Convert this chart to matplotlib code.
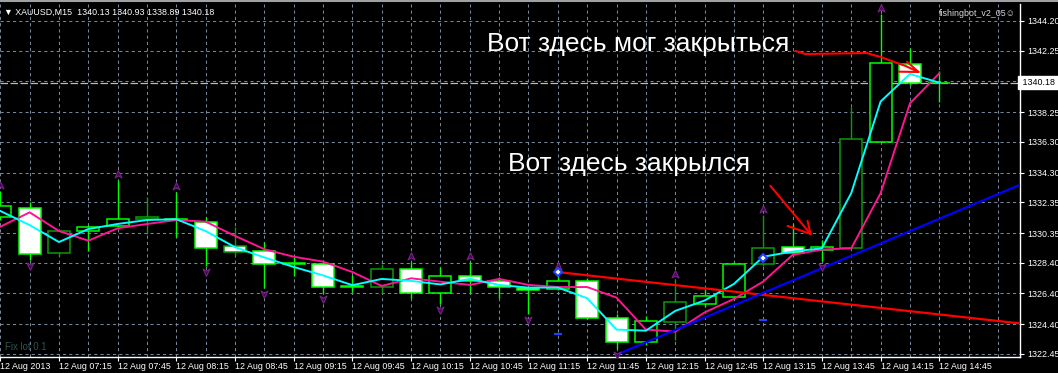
import numpy as np
import matplotlib
matplotlib.use('Agg')
import matplotlib.pyplot as plt
import matplotlib.transforms as mtransforms
from matplotlib import font_manager
from matplotlib.patches import Rectangle
from matplotlib.lines import Line2D
from matplotlib.path import Path

plt.rcParams['font.family'] = ['Liberation Sans', 'DejaVu Sans']

# small terminal-like font: narrow face when it is there
_names = {f.name for f in font_manager.fontManager.ttflist}
if 'Liberation Sans Narrow' in _names:
    SMALL = dict(family=['Liberation Sans Narrow', 'DejaVu Sans'], size=7.4)
else:
    SMALL = dict(family=['Liberation Sans', 'DejaVu Sans'], size=6.4)

# XAUUSD M15, 12 Aug 2013 06:45 .. 14:45 (one bar every 15 min)
opens = [1331.40, 1331.97, 1329.03, 1330.50, 1330.81, 1331.25, 1331.20, 1331.05, 1329.50,
         1329.20, 1328.35, 1328.31, 1326.90, 1326.81, 1328.00, 1326.41, 1327.54, 1327.24,
         1326.75, 1326.67, 1327.24, 1324.83, 1323.25, 1324.54, 1325.69, 1326.20, 1328.31,
         1329.46, 1329.24, 1329.35, 1336.32, 1341.37, 1340.13]
highs = [1333.10, 1332.40, 1330.55, 1330.87, 1333.81, 1332.68, 1333.05, 1331.38, 1330.76,
         1329.78, 1328.78, 1328.59, 1327.61, 1328.33, 1328.48, 1328.15, 1328.48, 1327.45,
         1326.85, 1327.80, 1327.41, 1325.06, 1324.93, 1327.28, 1326.67, 1328.46, 1331.53,
         1330.94, 1329.89, 1338.56, 1344.66, 1342.42, 1340.93]
lows = [1331.20, 1328.59, 1328.85, 1329.20, 1330.75, 1330.29, 1330.07, 1328.20, 1328.87,
        1326.76, 1327.54, 1326.41, 1326.52, 1326.41, 1326.09, 1325.71, 1326.41, 1326.09,
        1325.06, 1326.62, 1324.70, 1322.80, 1323.05, 1323.36, 1325.52, 1326.10, 1328.20,
        1329.00, 1328.52, 1329.30, 1336.30, 1340.00, 1338.89]
closes = [1332.12, 1328.96, 1330.48, 1330.72, 1331.25, 1331.38, 1331.25, 1329.39, 1329.09,
          1328.31, 1328.40, 1326.84, 1326.85, 1328.00, 1326.43, 1327.54, 1327.22, 1326.81,
          1326.62, 1327.24, 1324.78, 1323.26, 1324.60, 1325.83, 1326.24, 1328.31, 1329.39,
          1329.07, 1329.44, 1336.47, 1341.44, 1340.13, 1340.18]

ma_fast = [1331.79, 1330.87, 1329.76, 1330.61, 1330.94, 1331.20, 1331.25, 1330.48, 1329.42,
           1328.75, 1328.13, 1327.58, 1326.94, 1327.35, 1327.22, 1326.99, 1327.35, 1326.96,
           1326.78, 1326.79, 1326.09, 1324.04, 1323.97, 1325.26, 1325.94, 1327.02, 1328.80,
           1329.14, 1329.35, 1332.96, 1338.94, 1340.74, 1340.17]
ma_slow = [1330.76, 1331.70, 1330.48, 1329.85, 1330.66, 1330.94, 1331.20, 1331.09, 1330.16,
           1329.29, 1328.80, 1328.48, 1327.80, 1326.89, 1327.39, 1327.17, 1326.96, 1327.35,
           1326.96, 1326.82, 1326.82, 1326.13, 1324.04, 1323.91, 1325.16, 1326.04, 1327.18,
           1328.92, 1329.27, 1329.35, 1332.95, 1338.82, 1340.78]

fractal_up = [0, 4, 6, 14, 16, 19, 23, 26, 30]
fractal_down = [1, 7, 9, 11, 15, 18, 21, 28]

order_bars = [19, 26]
order_prices = [1327.80, 1328.72]
stop_prices = [1323.75, 1324.67]

red_line_bars = [19, 32]
red_line_prices = [1327.80, 1325.03]
blue_line_bars = [21, 32]
blue_line_prices = [1322.40, 1331.28]

price_ticks = [1344.20, 1342.25, 1340.25, 1338.25, 1336.30, 1334.30, 1332.35, 1330.35,
               1328.40, 1326.40, 1324.40, 1322.45]
last_price = 1340.18

time_labels = ['12 Aug 2013', '12 Aug 07:15', '12 Aug 07:45', '12 Aug 08:15', '12 Aug 08:45',
               '12 Aug 09:15', '12 Aug 09:45', '12 Aug 10:15', '12 Aug 10:45', '12 Aug 11:15',
               '12 Aug 11:45', '12 Aug 12:15', '12 Aug 12:45', '12 Aug 13:15', '12 Aug 13:45',
               '12 Aug 14:15', '12 Aug 14:45']

# bars whose outline shows in the darker green
dark_bars = [2, 5, 8, 13, 23, 26, 29]

W, H = 1058, 373
fig = plt.figure(figsize=(W / 100, H / 100), dpi=100, facecolor='black')
ax = fig.add_axes([0, 1 - 357 / H, 1020 / W, 353 / H])
ax.set_facecolor('black')
ax.set_xlim(-0.01, 34.75)
ax.set_ylim(1322.25, 1345.31)

n = len(closes)
idx = np.arange(n)

# grid
grid_kw = dict(color='#76869a', lw=0.75, dashes=(3, 3), zorder=0)
for i in range(int(ax.get_xlim()[1]) + 1):
    ax.axvline(i, **grid_kw)
for p in price_ticks:
    ax.axhline(p, **grid_kw)
ax.axhline(last_price, color='#b4bcc4', lw=0.9, dashes=(6, 2), zorder=0)

# candles
body_w = 0.75
for i in idx:
    o, h, l, c = opens[i], highs[i], lows[i], closes[i]
    ec = '#0a9a0a' if i in dark_bars else '#00ff00'
    ax.vlines(i, l, h, color=ec, lw=1.0, zorder=2)
    lo, hi = min(o, c), max(o, c)
    ax.add_patch(Rectangle((i - body_w / 2, lo), body_w, max(hi - lo, 0.03),
                           facecolor='black' if c >= o else 'white',
                           edgecolor=ec, lw=1.1, zorder=3))

# moving averages
ax.plot(idx, ma_slow, color='#ff1493', lw=1.4, zorder=5)
ax.plot(idx, ma_fast, color='#00ffff', lw=1.4, zorder=5)


def ray(xs, ys, color):
    k = (ys[1] - ys[0]) / (xs[1] - xs[0])
    x1 = ax.get_xlim()[1]
    ax.plot([xs[0], x1], [ys[0], ys[0] + k * (x1 - xs[0])], color=color, lw=1.6, zorder=6,
            solid_capstyle='butt')


ray(red_line_bars, red_line_prices, '#ff0000')
ray(blue_line_bars, blue_line_prices, '#0000ff')

# fractal arrows
up_marker = Path([(0, 1), (0.9, -0.9), (0, -0.35), (-0.9, -0.9), (0, 1)])
down_marker = Path([(0, -1), (0.9, 0.9), (0, 0.35), (-0.9, 0.9), (0, -1)])
up_tr = ax.transData + mtransforms.ScaledTranslation(0, 6 / 100, fig.dpi_scale_trans)
down_tr = ax.transData + mtransforms.ScaledTranslation(0, -6 / 100, fig.dpi_scale_trans)
fr_kw = dict(ls='none', ms=5.5, mfc='#3a0850', mec='#7a2088', mew=0.8, zorder=7)
ax.plot(fractal_up, [highs[i] for i in fractal_up], marker=up_marker, transform=up_tr, **fr_kw)
ax.plot(fractal_down, [lows[i] for i in fractal_down], marker=down_marker, transform=down_tr,
        **fr_kw)

# order markers
ax.plot(order_bars, order_prices, ls='none', marker='D', ms=4.5, mfc='white', mec='#2040ff',
        mew=1.5, zorder=8)
ax.plot(order_bars, stop_prices, ls='none', marker='_', ms=6, mew=1.5, color='#2040ff', zorder=8)

# hand drawn red arrows
red_kw = dict(color='#ff0000', lw=1.5, zorder=9, solid_capstyle='round')
ax.plot([27.10, 27.44, 29.52, 29.99, 30.85, 31.29],
        [1342.24, 1342.04, 1342.11, 1341.85, 1341.26, 1340.87], **red_kw)
ax.plot([30.90, 31.29], [1341.54, 1340.87], **red_kw)
ax.plot([30.62, 31.29], [1340.89, 1340.87], **red_kw)
ax.plot([26.24, 27.61], [1333.44, 1330.29], **red_kw)
ax.plot([26.83, 27.61], [1330.81, 1330.29], **red_kw)
ax.plot([27.51, 27.61], [1331.14, 1330.29], **red_kw)

# axes styling
for s in ['top', 'left']:
    ax.spines[s].set_visible(False)
for s in ['bottom', 'right']:
    ax.spines[s].set_color('white')
    ax.spines[s].set_linewidth(1.0)

ax.yaxis.tick_right()
ax.set_yticks(price_ticks)
ax.set_yticklabels(['' if abs(p - last_price) < 0.2 else f'{p:.2f}' for p in price_ticks],
                   fontfamily=SMALL['family'], fontsize=SMALL['size'])
ax.tick_params(axis='y', colors='white', length=3, width=0.8, pad=2)
ax.set_xticks(idx[::2])
ax.set_xticklabels(time_labels, fontfamily=SMALL['family'], fontsize=SMALL['size'])
for lab in ax.get_xticklabels():
    lab.set_horizontalalignment('left')
ax.tick_params(axis='x', colors='white', length=3, width=0.8, pad=0.5)

ax.text(1.0, last_price, ' 1340.18 ', transform=mtransforms.blended_transform_factory(
    ax.transAxes, ax.transData), ha='left', va='center', color='black',
    fontfamily=SMALL['family'], fontsize=SMALL['size'],
    bbox=dict(facecolor='white', edgecolor='white', boxstyle='square,pad=0.2'), clip_on=False)

# texts
fig.text(4 / W, 1 - 12 / H, '\u25bc XAUUSD,M15  1340.13 1340.93 1338.89 1340.18', color='white',
         va='center', fontfamily=SMALL['family'], fontsize=SMALL['size'])
fig.text(1016 / W, 1 - 14 / H, 'fishingbot_v2_05\u263a', color='#d8d8d8', ha='right',
         va='center', fontfamily=SMALL['family'], fontsize=SMALL['size'])
fig.text(5 / W, 1 - 347 / H, 'Fix lot 0.1', color='#2f5252', va='center',
         fontfamily=SMALL['family'], fontsize=SMALL['size'] + 0.5)
fig.text(487 / W, 1 - 51 / H, 'Вот здесь мог закрыться', color='white', fontsize=19,
         va='baseline')
fig.text(508 / W, 1 - 171 / H, 'Вот здесь закрылся', color='white', fontsize=19,
         va='baseline')

fig.add_artist(Line2D([0, 1], [1 - 1 / H, 1 - 1 / H], transform=fig.transFigure,
                      color='#a0a0a0', lw=1.5))

fig.savefig('out.png', dpi=100, facecolor='black')
